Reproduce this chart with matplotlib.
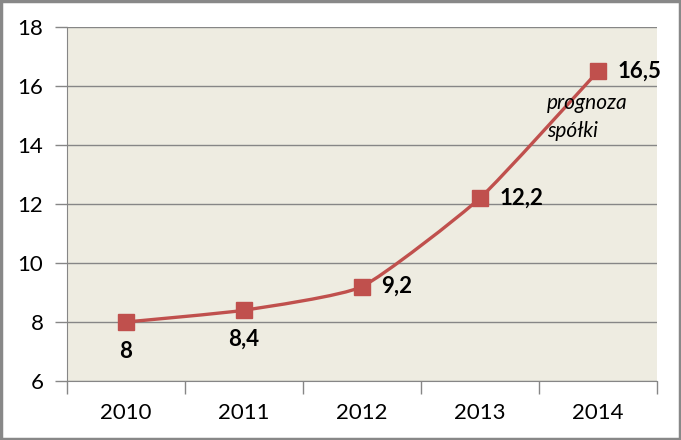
import matplotlib.pyplot as plt
from matplotlib.path import Path
from matplotlib.patches import PathPatch, Rectangle

years = ['2010', '2011', '2012', '2013', '2014']
values = [8, 8.4, 9.2, 12.2, 16.5]
labels = ['8', '8,4', '9,2', '12,2', '16,5']
yticks = [6, 8, 10, 12, 14, 16, 18]

red = '#C0504D'
grid_col = '#868686'

plt.rcParams['font.family'] = ['Lato', 'DejaVu Sans']

fig = plt.figure(figsize=(6.81, 4.40), dpi=100)
fig.patch.set_facecolor('white')
ax = fig.add_axes([67/681, 1 - 381/440, 590/681, 354/440])
ax.set_facecolor('#EEECE1')

x = [i + 0.5 for i in range(len(values))]

# smoothed line, bezier between the points
verts = [(x[0], values[0])]
codes = [Path.MOVETO]
n = len(x)
k = 12
for i in range(n - 1):
    p0 = (x[max(i - 1, 0)], values[max(i - 1, 0)])
    p1 = (x[i], values[i])
    p2 = (x[i + 1], values[i + 1])
    p3 = (x[min(i + 2, n - 1)], values[min(i + 2, n - 1)])
    c1 = (p1[0] + (p2[0] - p0[0]) / k, p1[1] + (p2[1] - p0[1]) / k)
    c2 = (p2[0] - (p3[0] - p1[0]) / k, p2[1] - (p3[1] - p1[1]) / k)
    verts += [c1, c2, p2]
    codes += [Path.CURVE4] * 3
ax.add_patch(PathPatch(Path(verts, codes), facecolor='none', edgecolor=red, lw=2.4, zorder=3))
ax.plot(x, values, 's', color=red, markersize=12, zorder=4)

for i in yticks:
    ax.axhline(i, color=grid_col, lw=1, zorder=1)

ax.set_xlim(0, 5)
ax.set_ylim(6, 18)
ax.set_yticks(yticks)
ax.set_yticklabels([str(t) for t in yticks], fontsize=16)
ax.set_xticks(range(6))
ax.set_xticks(x, minor=True)
ax.set_xticklabels([])
ax.set_xticklabels(years, minor=True, fontsize=16)
ax.tick_params(axis='x', which='major', length=9, color=grid_col, width=1)
ax.tick_params(axis='x', which='minor', length=0, pad=16)
ax.tick_params(axis='y', length=9, color=grid_col, width=1, pad=8)
for s in ['top', 'right']:
    ax.spines[s].set_visible(False)
for s in ['left', 'bottom']:
    ax.spines[s].set_color(grid_col)

# data labels
ax.annotate(labels[0], (x[0], values[0]), xytext=(0, -21), textcoords='offset points',
            ha='center', va='center', fontsize=16, fontweight='bold')
ax.annotate(labels[1], (x[1], values[1]), xytext=(0, -21), textcoords='offset points',
            ha='center', va='center', fontsize=16, fontweight='bold')
for i in range(2, 5):
    ax.annotate(labels[i], (x[i], values[i]), xytext=(14, 0), textcoords='offset points',
                ha='left', va='center', fontsize=16, fontweight='bold')

ax.text(4.07, 14.95, 'prognoza\nspółki', ha='left', va='center', fontsize=15,
        style='italic', linespacing=1.55, multialignment='left')

fig.add_artist(Rectangle((0.002, 0.003), 0.996, 0.994, transform=fig.transFigure,
                         fill=False, edgecolor='#888888', lw=2.5))

fig.savefig('out.png', dpi=100)
